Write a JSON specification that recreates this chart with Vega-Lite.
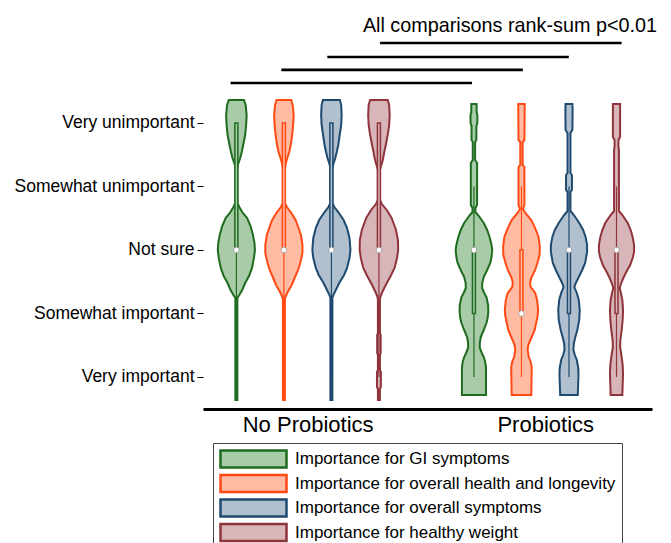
{
"$schema": "https://vega.github.io/schema/vega-lite/v6.json",
"width": 449, "height": 373,
"autosize": {"type": "none"},
"padding": {"left": 203, "top": 36, "right": 19, "bottom": 134},
"background": "white",
"title": {"text": "All comparisons rank-sum p<0.01", "anchor": "end", "fontSize": 19.8, "fontWeight": "normal", "font": "Liberation Sans", "color": "black", "offset": 0, "dx": 5},
"config": {"view": {"stroke": null}, "font": "Liberation Sans"},
"datasets": {
"vio": [
{"g":"No","m":"GI","v":5.362,"lo":-0.160,"hi":0.160},
{"g":"No","m":"GI","v":5.283,"lo":-0.195,"hi":0.195},
{"g":"No","m":"GI","v":5.126,"lo":-0.216,"hi":0.216},
{"g":"No","m":"GI","v":4.969,"lo":-0.206,"hi":0.206},
{"g":"No","m":"GI","v":4.811,"lo":-0.185,"hi":0.185},
{"g":"No","m":"GI","v":4.654,"lo":-0.144,"hi":0.144},
{"g":"No","m":"GI","v":4.543,"lo":-0.113,"hi":0.113},
{"g":"No","m":"GI","v":4.449,"lo":-0.082,"hi":0.082},
{"g":"No","m":"GI","v":4.339,"lo":-0.031,"hi":0.031},
{"g":"No","m":"GI","v":4.260,"lo":-0.021,"hi":0.021},
{"g":"No","m":"GI","v":3.740,"lo":-0.021,"hi":0.021},
{"g":"No","m":"GI","v":3.677,"lo":-0.062,"hi":0.062},
{"g":"No","m":"GI","v":3.598,"lo":-0.123,"hi":0.123},
{"g":"No","m":"GI","v":3.504,"lo":-0.226,"hi":0.226},
{"g":"No","m":"GI","v":3.378,"lo":-0.298,"hi":0.298},
{"g":"No","m":"GI","v":3.236,"lo":-0.350,"hi":0.350},
{"g":"No","m":"GI","v":3.110,"lo":-0.381,"hi":0.381},
{"g":"No","m":"GI","v":3.000,"lo":-0.391,"hi":0.391},
{"g":"No","m":"GI","v":2.874,"lo":-0.370,"hi":0.370},
{"g":"No","m":"GI","v":2.717,"lo":-0.329,"hi":0.329},
{"g":"No","m":"GI","v":2.591,"lo":-0.267,"hi":0.267},
{"g":"No","m":"GI","v":2.480,"lo":-0.185,"hi":0.185},
{"g":"No","m":"GI","v":2.370,"lo":-0.123,"hi":0.123},
{"g":"No","m":"GI","v":2.291,"lo":-0.062,"hi":0.062},
{"g":"No","m":"GI","v":2.244,"lo":-0.021,"hi":0.021},
{"g":"No","m":"GI","v":0.638,"lo":-0.021,"hi":0.021},
{"g":"No","m":"HL","v":5.362,"lo":0.846,"hi":1.154},
{"g":"No","m":"HL","v":5.283,"lo":0.815,"hi":1.185},
{"g":"No","m":"HL","v":5.126,"lo":0.794,"hi":1.206},
{"g":"No","m":"HL","v":4.969,"lo":0.805,"hi":1.195},
{"g":"No","m":"HL","v":4.811,"lo":0.825,"hi":1.175},
{"g":"No","m":"HL","v":4.654,"lo":0.856,"hi":1.144},
{"g":"No","m":"HL","v":4.543,"lo":0.887,"hi":1.113},
{"g":"No","m":"HL","v":4.449,"lo":0.928,"hi":1.072},
{"g":"No","m":"HL","v":4.370,"lo":0.959,"hi":1.041},
{"g":"No","m":"HL","v":4.291,"lo":0.979,"hi":1.021},
{"g":"No","m":"HL","v":3.740,"lo":0.979,"hi":1.021},
{"g":"No","m":"HL","v":3.677,"lo":0.938,"hi":1.062},
{"g":"No","m":"HL","v":3.598,"lo":0.856,"hi":1.144},
{"g":"No","m":"HL","v":3.472,"lo":0.753,"hi":1.247},
{"g":"No","m":"HL","v":3.346,"lo":0.691,"hi":1.309},
{"g":"No","m":"HL","v":3.236,"lo":0.640,"hi":1.360},
{"g":"No","m":"HL","v":3.079,"lo":0.609,"hi":1.391},
{"g":"No","m":"HL","v":2.953,"lo":0.609,"hi":1.391},
{"g":"No","m":"HL","v":2.811,"lo":0.650,"hi":1.350},
{"g":"No","m":"HL","v":2.685,"lo":0.702,"hi":1.298},
{"g":"No","m":"HL","v":2.559,"lo":0.774,"hi":1.226},
{"g":"No","m":"HL","v":2.449,"lo":0.835,"hi":1.165},
{"g":"No","m":"HL","v":2.339,"lo":0.918,"hi":1.082},
{"g":"No","m":"HL","v":2.260,"lo":0.969,"hi":1.031},
{"g":"No","m":"HL","v":2.213,"lo":0.979,"hi":1.021},
{"g":"No","m":"HL","v":0.638,"lo":0.979,"hi":1.021},
{"g":"No","m":"OS","v":5.362,"lo":1.821,"hi":2.179},
{"g":"No","m":"OS","v":5.283,"lo":1.794,"hi":2.206},
{"g":"No","m":"OS","v":5.126,"lo":1.784,"hi":2.216},
{"g":"No","m":"OS","v":4.969,"lo":1.794,"hi":2.206},
{"g":"No","m":"OS","v":4.811,"lo":1.825,"hi":2.175},
{"g":"No","m":"OS","v":4.654,"lo":1.856,"hi":2.144},
{"g":"No","m":"OS","v":4.543,"lo":1.887,"hi":2.113},
{"g":"No","m":"OS","v":4.449,"lo":1.918,"hi":2.082},
{"g":"No","m":"OS","v":4.354,"lo":1.959,"hi":2.041},
{"g":"No","m":"OS","v":4.291,"lo":1.979,"hi":2.021},
{"g":"No","m":"OS","v":3.740,"lo":1.979,"hi":2.021},
{"g":"No","m":"OS","v":3.677,"lo":1.938,"hi":2.062},
{"g":"No","m":"OS","v":3.598,"lo":1.856,"hi":2.144},
{"g":"No","m":"OS","v":3.472,"lo":1.743,"hi":2.257},
{"g":"No","m":"OS","v":3.346,"lo":1.671,"hi":2.329},
{"g":"No","m":"OS","v":3.189,"lo":1.619,"hi":2.381},
{"g":"No","m":"OS","v":3.000,"lo":1.599,"hi":2.401},
{"g":"No","m":"OS","v":2.874,"lo":1.619,"hi":2.381},
{"g":"No","m":"OS","v":2.717,"lo":1.671,"hi":2.329},
{"g":"No","m":"OS","v":2.606,"lo":1.733,"hi":2.267},
{"g":"No","m":"OS","v":2.480,"lo":1.835,"hi":2.165},
{"g":"No","m":"OS","v":2.370,"lo":1.907,"hi":2.093},
{"g":"No","m":"OS","v":2.291,"lo":1.959,"hi":2.041},
{"g":"No","m":"OS","v":2.244,"lo":1.979,"hi":2.021},
{"g":"No","m":"OS","v":0.638,"lo":1.979,"hi":2.021},
{"g":"No","m":"HW","v":5.362,"lo":2.815,"hi":3.185},
{"g":"No","m":"HW","v":5.283,"lo":2.784,"hi":3.216},
{"g":"No","m":"HW","v":5.126,"lo":2.774,"hi":3.226},
{"g":"No","m":"HW","v":4.969,"lo":2.784,"hi":3.216},
{"g":"No","m":"HW","v":4.811,"lo":2.815,"hi":3.185},
{"g":"No","m":"HW","v":4.654,"lo":2.856,"hi":3.144},
{"g":"No","m":"HW","v":4.543,"lo":2.887,"hi":3.113},
{"g":"No","m":"HW","v":4.417,"lo":2.918,"hi":3.082},
{"g":"No","m":"HW","v":4.339,"lo":2.949,"hi":3.051},
{"g":"No","m":"HW","v":4.260,"lo":2.979,"hi":3.021},
{"g":"No","m":"HW","v":3.787,"lo":2.979,"hi":3.021},
{"g":"No","m":"HW","v":3.724,"lo":2.938,"hi":3.062},
{"g":"No","m":"HW","v":3.630,"lo":2.835,"hi":3.165},
{"g":"No","m":"HW","v":3.504,"lo":2.733,"hi":3.267},
{"g":"No","m":"HW","v":3.315,"lo":2.640,"hi":3.360},
{"g":"No","m":"HW","v":3.157,"lo":2.599,"hi":3.401},
{"g":"No","m":"HW","v":3.000,"lo":2.595,"hi":3.405},
{"g":"No","m":"HW","v":2.874,"lo":2.619,"hi":3.381},
{"g":"No","m":"HW","v":2.717,"lo":2.671,"hi":3.329},
{"g":"No","m":"HW","v":2.591,"lo":2.753,"hi":3.247},
{"g":"No","m":"HW","v":2.449,"lo":2.856,"hi":3.144},
{"g":"No","m":"HW","v":2.339,"lo":2.928,"hi":3.072},
{"g":"No","m":"HW","v":2.260,"lo":2.969,"hi":3.031},
{"g":"No","m":"HW","v":2.213,"lo":2.979,"hi":3.021},
{"g":"No","m":"HW","v":1.693,"lo":2.979,"hi":3.021},
{"g":"No","m":"HW","v":1.661,"lo":2.963,"hi":3.037},
{"g":"No","m":"HW","v":1.378,"lo":2.963,"hi":3.037},
{"g":"No","m":"HW","v":1.346,"lo":2.979,"hi":3.021},
{"g":"No","m":"HW","v":1.110,"lo":2.979,"hi":3.021},
{"g":"No","m":"HW","v":1.079,"lo":2.959,"hi":3.041},
{"g":"No","m":"HW","v":0.843,"lo":2.959,"hi":3.041},
{"g":"No","m":"HW","v":0.811,"lo":2.979,"hi":3.021},
{"g":"No","m":"HW","v":0.638,"lo":2.979,"hi":3.021},
{"g":"Pro","m":"GI","v":5.299,"lo":4.944,"hi":5.056},
{"g":"Pro","m":"GI","v":5.173,"lo":4.944,"hi":5.056},
{"g":"Pro","m":"GI","v":5.126,"lo":4.928,"hi":5.072},
{"g":"Pro","m":"GI","v":5.000,"lo":4.928,"hi":5.072},
{"g":"Pro","m":"GI","v":4.953,"lo":4.949,"hi":5.051},
{"g":"Pro","m":"GI","v":4.732,"lo":4.949,"hi":5.051},
{"g":"Pro","m":"GI","v":4.701,"lo":4.975,"hi":5.025},
{"g":"Pro","m":"GI","v":4.417,"lo":4.975,"hi":5.025},
{"g":"Pro","m":"GI","v":4.370,"lo":4.934,"hi":5.066},
{"g":"Pro","m":"GI","v":3.709,"lo":4.934,"hi":5.066},
{"g":"Pro","m":"GI","v":3.661,"lo":4.969,"hi":5.031},
{"g":"Pro","m":"GI","v":3.598,"lo":4.969,"hi":5.031},
{"g":"Pro","m":"GI","v":3.535,"lo":4.897,"hi":5.103},
{"g":"Pro","m":"GI","v":3.425,"lo":4.794,"hi":5.206},
{"g":"Pro","m":"GI","v":3.315,"lo":4.722,"hi":5.278},
{"g":"Pro","m":"GI","v":3.205,"lo":4.671,"hi":5.329},
{"g":"Pro","m":"GI","v":3.079,"lo":4.630,"hi":5.370},
{"g":"Pro","m":"GI","v":3.000,"lo":4.615,"hi":5.385},
{"g":"Pro","m":"GI","v":2.890,"lo":4.630,"hi":5.370},
{"g":"Pro","m":"GI","v":2.795,"lo":4.656,"hi":5.344},
{"g":"Pro","m":"GI","v":2.685,"lo":4.722,"hi":5.278},
{"g":"Pro","m":"GI","v":2.575,"lo":4.794,"hi":5.206},
{"g":"Pro","m":"GI","v":2.480,"lo":4.825,"hi":5.175},
{"g":"Pro","m":"GI","v":2.402,"lo":4.829,"hi":5.171},
{"g":"Pro","m":"GI","v":2.323,"lo":4.784,"hi":5.216},
{"g":"Pro","m":"GI","v":2.260,"lo":4.737,"hi":5.263},
{"g":"Pro","m":"GI","v":2.134,"lo":4.702,"hi":5.298},
{"g":"Pro","m":"GI","v":2.024,"lo":4.698,"hi":5.302},
{"g":"Pro","m":"GI","v":1.929,"lo":4.712,"hi":5.288},
{"g":"Pro","m":"GI","v":1.850,"lo":4.737,"hi":5.263},
{"g":"Pro","m":"GI","v":1.740,"lo":4.794,"hi":5.206},
{"g":"Pro","m":"GI","v":1.630,"lo":4.856,"hi":5.144},
{"g":"Pro","m":"GI","v":1.535,"lo":4.877,"hi":5.123},
{"g":"Pro","m":"GI","v":1.457,"lo":4.877,"hi":5.123},
{"g":"Pro","m":"GI","v":1.378,"lo":4.835,"hi":5.165},
{"g":"Pro","m":"GI","v":1.315,"lo":4.794,"hi":5.206},
{"g":"Pro","m":"GI","v":1.236,"lo":4.763,"hi":5.237},
{"g":"Pro","m":"GI","v":1.157,"lo":4.747,"hi":5.253},
{"g":"Pro","m":"GI","v":0.717,"lo":4.747,"hi":5.253},
{"g":"Pro","m":"HL","v":5.299,"lo":5.932,"hi":6.068},
{"g":"Pro","m":"HL","v":4.732,"lo":5.938,"hi":6.062},
{"g":"Pro","m":"HL","v":4.701,"lo":5.975,"hi":6.025},
{"g":"Pro","m":"HL","v":4.339,"lo":5.975,"hi":6.025},
{"g":"Pro","m":"HL","v":4.307,"lo":5.938,"hi":6.062},
{"g":"Pro","m":"HL","v":3.709,"lo":5.938,"hi":6.062},
{"g":"Pro","m":"HL","v":3.646,"lo":5.969,"hi":6.031},
{"g":"Pro","m":"HL","v":3.583,"lo":5.918,"hi":6.082},
{"g":"Pro","m":"HL","v":3.472,"lo":5.794,"hi":6.206},
{"g":"Pro","m":"HL","v":3.346,"lo":5.712,"hi":6.288},
{"g":"Pro","m":"HL","v":3.205,"lo":5.640,"hi":6.360},
{"g":"Pro","m":"HL","v":3.047,"lo":5.613,"hi":6.387},
{"g":"Pro","m":"HL","v":2.921,"lo":5.619,"hi":6.381},
{"g":"Pro","m":"HL","v":2.795,"lo":5.665,"hi":6.335},
{"g":"Pro","m":"HL","v":2.685,"lo":5.712,"hi":6.288},
{"g":"Pro","m":"HL","v":2.559,"lo":5.794,"hi":6.206},
{"g":"Pro","m":"HL","v":2.480,"lo":5.819,"hi":6.181},
{"g":"Pro","m":"HL","v":2.417,"lo":5.805,"hi":6.195},
{"g":"Pro","m":"HL","v":2.323,"lo":5.712,"hi":6.288},
{"g":"Pro","m":"HL","v":2.213,"lo":5.671,"hi":6.329},
{"g":"Pro","m":"HL","v":2.055,"lo":5.650,"hi":6.350},
{"g":"Pro","m":"HL","v":1.961,"lo":5.660,"hi":6.340},
{"g":"Pro","m":"HL","v":1.850,"lo":5.691,"hi":6.309},
{"g":"Pro","m":"HL","v":1.740,"lo":5.722,"hi":6.278},
{"g":"Pro","m":"HL","v":1.614,"lo":5.794,"hi":6.206},
{"g":"Pro","m":"HL","v":1.504,"lo":5.856,"hi":6.144},
{"g":"Pro","m":"HL","v":1.425,"lo":5.870,"hi":6.130},
{"g":"Pro","m":"HL","v":1.315,"lo":5.846,"hi":6.154},
{"g":"Pro","m":"HL","v":1.236,"lo":5.805,"hi":6.195},
{"g":"Pro","m":"HL","v":1.157,"lo":5.784,"hi":6.216},
{"g":"Pro","m":"HL","v":0.717,"lo":5.794,"hi":6.206},
{"g":"Pro","m":"OS","v":5.299,"lo":6.928,"hi":7.072},
{"g":"Pro","m":"OS","v":5.205,"lo":6.924,"hi":7.076},
{"g":"Pro","m":"OS","v":4.890,"lo":6.928,"hi":7.072},
{"g":"Pro","m":"OS","v":4.843,"lo":6.969,"hi":7.031},
{"g":"Pro","m":"OS","v":4.213,"lo":6.969,"hi":7.031},
{"g":"Pro","m":"OS","v":4.181,"lo":6.938,"hi":7.062},
{"g":"Pro","m":"OS","v":3.945,"lo":6.938,"hi":7.062},
{"g":"Pro","m":"OS","v":3.913,"lo":6.969,"hi":7.031},
{"g":"Pro","m":"OS","v":3.614,"lo":6.969,"hi":7.031},
{"g":"Pro","m":"OS","v":3.551,"lo":6.897,"hi":7.103},
{"g":"Pro","m":"OS","v":3.425,"lo":6.784,"hi":7.216},
{"g":"Pro","m":"OS","v":3.315,"lo":6.702,"hi":7.298},
{"g":"Pro","m":"OS","v":3.205,"lo":6.650,"hi":7.350},
{"g":"Pro","m":"OS","v":3.079,"lo":6.619,"hi":7.381},
{"g":"Pro","m":"OS","v":2.969,"lo":6.619,"hi":7.381},
{"g":"Pro","m":"OS","v":2.795,"lo":6.660,"hi":7.340},
{"g":"Pro","m":"OS","v":2.685,"lo":6.722,"hi":7.278},
{"g":"Pro","m":"OS","v":2.575,"lo":6.794,"hi":7.206},
{"g":"Pro","m":"OS","v":2.480,"lo":6.856,"hi":7.144},
{"g":"Pro","m":"OS","v":2.417,"lo":6.887,"hi":7.113},
{"g":"Pro","m":"OS","v":2.323,"lo":6.835,"hi":7.165},
{"g":"Pro","m":"OS","v":2.213,"lo":6.794,"hi":7.206},
{"g":"Pro","m":"OS","v":2.055,"lo":6.774,"hi":7.226},
{"g":"Pro","m":"OS","v":1.898,"lo":6.784,"hi":7.216},
{"g":"Pro","m":"OS","v":1.740,"lo":6.825,"hi":7.175},
{"g":"Pro","m":"OS","v":1.630,"lo":6.866,"hi":7.134},
{"g":"Pro","m":"OS","v":1.535,"lo":6.897,"hi":7.103},
{"g":"Pro","m":"OS","v":1.425,"lo":6.907,"hi":7.093},
{"g":"Pro","m":"OS","v":1.346,"lo":6.877,"hi":7.123},
{"g":"Pro","m":"OS","v":1.268,"lo":6.835,"hi":7.165},
{"g":"Pro","m":"OS","v":1.142,"lo":6.805,"hi":7.195},
{"g":"Pro","m":"OS","v":1.031,"lo":6.800,"hi":7.200},
{"g":"Pro","m":"OS","v":0.717,"lo":6.815,"hi":7.185},
{"g":"Pro","m":"HW","v":5.299,"lo":7.924,"hi":8.076},
{"g":"Pro","m":"HW","v":4.780,"lo":7.924,"hi":8.076},
{"g":"Pro","m":"HW","v":4.732,"lo":7.959,"hi":8.041},
{"g":"Pro","m":"HW","v":4.622,"lo":7.959,"hi":8.041},
{"g":"Pro","m":"HW","v":4.575,"lo":7.949,"hi":8.051},
{"g":"Pro","m":"HW","v":3.614,"lo":7.949,"hi":8.051},
{"g":"Pro","m":"HW","v":3.551,"lo":7.877,"hi":8.123},
{"g":"Pro","m":"HW","v":3.425,"lo":7.763,"hi":8.237},
{"g":"Pro","m":"HW","v":3.315,"lo":7.702,"hi":8.298},
{"g":"Pro","m":"HW","v":3.205,"lo":7.660,"hi":8.340},
{"g":"Pro","m":"HW","v":3.079,"lo":7.630,"hi":8.370},
{"g":"Pro","m":"HW","v":2.969,"lo":7.630,"hi":8.370},
{"g":"Pro","m":"HW","v":2.874,"lo":7.660,"hi":8.340},
{"g":"Pro","m":"HW","v":2.764,"lo":7.712,"hi":8.288},
{"g":"Pro","m":"HW","v":2.654,"lo":7.794,"hi":8.206},
{"g":"Pro","m":"HW","v":2.559,"lo":7.856,"hi":8.144},
{"g":"Pro","m":"HW","v":2.465,"lo":7.907,"hi":8.093},
{"g":"Pro","m":"HW","v":2.402,"lo":7.932,"hi":8.068},
{"g":"Pro","m":"HW","v":2.323,"lo":7.907,"hi":8.093},
{"g":"Pro","m":"HW","v":2.213,"lo":7.877,"hi":8.123},
{"g":"Pro","m":"HW","v":2.055,"lo":7.862,"hi":8.138},
{"g":"Pro","m":"HW","v":1.898,"lo":7.870,"hi":8.130},
{"g":"Pro","m":"HW","v":1.740,"lo":7.891,"hi":8.109},
{"g":"Pro","m":"HW","v":1.583,"lo":7.918,"hi":8.082},
{"g":"Pro","m":"HW","v":1.472,"lo":7.924,"hi":8.076},
{"g":"Pro","m":"HW","v":1.394,"lo":7.907,"hi":8.093},
{"g":"Pro","m":"HW","v":1.315,"lo":7.891,"hi":8.109},
{"g":"Pro","m":"HW","v":1.189,"lo":7.870,"hi":8.130},
{"g":"Pro","m":"HW","v":1.063,"lo":7.862,"hi":8.138},
{"g":"Pro","m":"HW","v":0.717,"lo":7.877,"hi":8.123}
],
"stats": [
{"g":"No","m":"GI","pos":0,"med":3,"q1":3,"q3":5,"wlo":1,"whi":5},
{"g":"No","m":"HL","pos":1,"med":3,"q1":3,"q3":5,"wlo":1,"whi":5},
{"g":"No","m":"OS","pos":2,"med":3,"q1":3,"q3":5,"wlo":1,"whi":5},
{"g":"No","m":"HW","pos":3,"med":3,"q1":3,"q3":5,"wlo":1,"whi":5},
{"g":"Pro","m":"GI","pos":5,"med":3,"q1":2,"q3":3,"wlo":1,"whi":4},
{"g":"Pro","m":"HL","pos":6,"med":2,"q1":2,"q3":3,"wlo":1,"whi":4},
{"g":"Pro","m":"OS","pos":7,"med":3,"q1":2,"q3":3,"wlo":1,"whi":4},
{"g":"Pro","m":"HW","pos":8,"med":3,"q1":2,"q3":3,"wlo":1,"whi":4}
],
"sig": [
{"from":3.025,"to":8.107,"level":6.260},
{"from":1.914,"to":6.996,"level":6.039},
{"from":0.947,"to":6.029,"level":5.835},
{"from":-0.123,"to":4.959,"level":5.630}
]
},
"layer": [
{
"data": {"name": "vio"},
"mark": {"type": "area", "orient": "horizontal", "strokeWidth": 2, "opacity": 1, "fillOpacity": 1, "interpolate": "linear"},
"encoding": {
"y": {"field": "v", "type": "quantitative", "scale": {"domain": [0.496, 6.370], "nice": false, "zero": false},
 "axis": {"values": [1,2,3,4,5], "labelExpr": "['','Very important','Somewhat important','Not sure','Somewhat unimportant','Very unimportant'][datum.value]", "domain": false, "tickSize": 6, "tickColor": "black", "tickWidth": 1, "labelFontSize": 17.5, "labelColor": "black", "labelPadding": 3, "grid": false, "title": null, "labelFont": "Liberation Sans"}},
"x": {"field": "lo", "type": "quantitative", "scale": {"domain": [-0.597, 8.642], "nice": false, "zero": false},
 "axis": {"values": [1.5, 6.5], "labelExpr": "datum.value < 4 ? 'No Probiotics' : 'Probiotics'", "domainColor": "black", "domainWidth": 3, "ticks": false, "labelFontSize": 22, "labelColor": "black", "labelPadding": 5, "grid": false, "title": null, "labelFont": "Liberation Sans"}},
"x2": {"field": "hi"},
"detail": {"field": "g"},
"fill": {"field": "m", "type": "nominal", "scale": {"domain": ["GI","HL","OS","HW"], "range": ["#a8cca8","#ffbba3","#b0c0cf","#d7b5b8"]},
 "legend": {"orient": "none", "legendX": 10, "legendY": 407, "title": null, "direction": "vertical", "columns": 1, "symbolType": "M-1,-1H6.765V1H-1Z", "symbolSize": 289, "symbolStrokeWidth": 2.5, "labelFontSize": 17, "labelFont": "Liberation Sans", "labelColor": "black", "labelOffset": 56, "rowPadding": -3.5, "padding": 6, "strokeColor": "#444", "fillColor": "white", "labelLimit": 0,
  "labelExpr": "{'GI':'Importance for GI symptoms','HL':'Importance for overall health and longevity','OS':'Importance for overall symptoms','HW':'Importance for healthy weight'}[datum.label]"}},
"stroke": {"field": "m", "type": "nominal", "scale": {"domain": ["GI","HL","OS","HW"], "range": ["#1f6b1f","#ff4a14","#1f4a70","#8f343a"]},
 "legend": {"orient": "none", "legendX": 10, "legendY": 407, "title": null, "direction": "vertical", "columns": 1, "symbolType": "M-1,-1H6.765V1H-1Z", "symbolSize": 289, "symbolStrokeWidth": 2.5, "labelFontSize": 17, "labelFont": "Liberation Sans", "labelColor": "black", "labelOffset": 56, "rowPadding": -3.5, "padding": 6, "strokeColor": "#444", "fillColor": "white", "labelLimit": 0,
  "labelExpr": "{'GI':'Importance for GI symptoms','HL':'Importance for overall health and longevity','OS':'Importance for overall symptoms','HW':'Importance for healthy weight'}[datum.label]"}}
}
},
{
"data": {"name": "stats"},
"mark": {"type": "rule", "strokeWidth": 1.2},
"encoding": {
"x": {"field": "pos", "type": "quantitative"},
"y": {"field": "wlo", "type": "quantitative"},
"y2": {"field": "whi"},
"stroke": {"field": "m", "type": "nominal", "legend": null}
}
},
{
"data": {"name": "stats"},
"mark": {"type": "bar", "size": 3, "strokeWidth": 1.5, "opacity": 1},
"encoding": {
"x": {"field": "pos", "type": "quantitative"},
"y": {"field": "q1", "type": "quantitative"},
"y2": {"field": "q3"},
"fill": {"field": "m", "type": "nominal", "legend": null},
"stroke": {"field": "m", "type": "nominal", "legend": null}
}
},
{
"data": {"name": "stats"},
"mark": {"type": "point", "filled": true, "fill": "white", "size": 32, "stroke": "#999999", "strokeWidth": 0.8, "opacity": 1},
"encoding": {
"x": {"field": "pos", "type": "quantitative"},
"y": {"field": "med", "type": "quantitative"}
}
},
{
"data": {"name": "sig"},
"mark": {"type": "rule", "strokeWidth": 2.7, "color": "black"},
"encoding": {
"x": {"field": "from", "type": "quantitative"},
"x2": {"field": "to"},
"y": {"field": "level", "type": "quantitative"}
}
}
]
}
